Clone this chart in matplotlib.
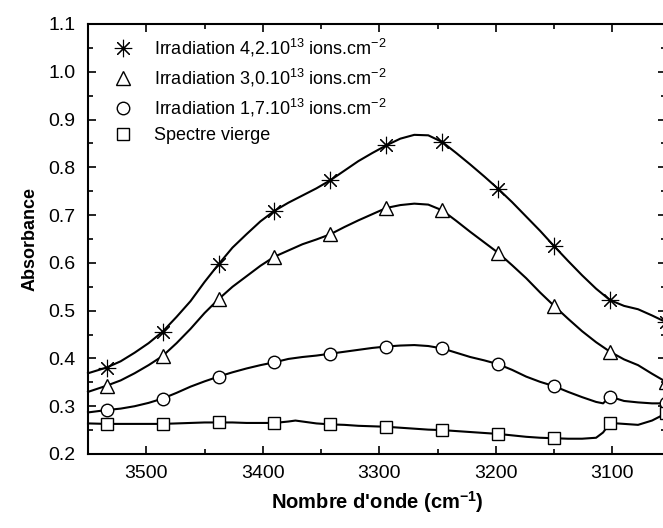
import matplotlib
matplotlib.use("Agg")
import matplotlib.pyplot as plt
from matplotlib.ticker import MultipleLocator

plt.rcParams['font.family'] = ['Liberation Sans', 'DejaVu Sans']
plt.rcParams['mathtext.fontset'] = 'custom'
plt.rcParams['mathtext.rm'] = 'Liberation Sans'
plt.rcParams['mathtext.it'] = 'Liberation Sans:italic'
plt.rcParams['mathtext.bf'] = 'Liberation Sans:bold'

# marker positions (wavenumber, cm-1)
marker_x = [3534, 3486, 3438, 3390, 3342, 3294, 3246, 3198, 3150, 3102, 3054]
star_m = [0.381, 0.456, 0.597, 0.709, 0.773, 0.846, 0.853, 0.755, 0.635, 0.522, 0.476]
tri_m = [0.343, 0.405, 0.524, 0.613, 0.660, 0.715, 0.710, 0.621, 0.510, 0.414, 0.351]
circ_m = [0.292, 0.316, 0.362, 0.392, 0.410, 0.425, 0.421, 0.388, 0.342, 0.320, 0.306]
sq_m = [0.263, 0.263, 0.266, 0.265, 0.262, 0.257, 0.250, 0.242, 0.233, 0.265, 0.285]

# continuous spectra
line_x = [3550, 3534, 3522, 3510, 3498, 3486, 3474, 3462, 3450, 3438, 3426, 3414, 3402,
          3390, 3378, 3366, 3354, 3342, 3330, 3318, 3306, 3294, 3282, 3270, 3258, 3246,
          3234, 3222, 3210, 3198, 3186, 3174, 3162, 3150, 3138, 3126, 3114, 3102, 3090,
          3078, 3066, 3054]
star_y = [0.369, 0.381, 0.394, 0.412, 0.432, 0.456, 0.487, 0.520, 0.560, 0.597, 0.632,
          0.660, 0.687, 0.709, 0.726, 0.741, 0.756, 0.773, 0.793, 0.813, 0.830, 0.846,
          0.860, 0.868, 0.867, 0.853, 0.830, 0.806, 0.781, 0.755, 0.727, 0.697, 0.667,
          0.635, 0.604, 0.574, 0.546, 0.522, 0.510, 0.503, 0.490, 0.476]
tri_y = [0.330, 0.343, 0.354, 0.369, 0.386, 0.405, 0.432, 0.462, 0.495, 0.524, 0.550,
         0.572, 0.594, 0.613, 0.626, 0.639, 0.649, 0.660, 0.675, 0.689, 0.702, 0.715,
         0.721, 0.724, 0.722, 0.710, 0.688, 0.665, 0.643, 0.621, 0.595, 0.568, 0.538,
         0.510, 0.483, 0.457, 0.434, 0.414, 0.398, 0.386, 0.368, 0.351]

circ_x = [3550, 3534, 3522, 3510, 3498, 3486, 3474, 3462, 3450, 3438, 3426, 3414, 3402,
          3390, 3378, 3366, 3354, 3342, 3330, 3318, 3306, 3294, 3282, 3270, 3258, 3246,
          3234, 3222, 3210, 3198, 3186, 3174, 3162, 3150, 3138, 3126, 3114, 3108, 3102,
          3090, 3078, 3066, 3054]
circ_y = [0.287, 0.292, 0.295, 0.300, 0.307, 0.316, 0.328, 0.341, 0.352, 0.362, 0.371,
          0.379, 0.386, 0.392, 0.399, 0.403, 0.406, 0.410, 0.414, 0.418, 0.422, 0.425,
          0.427, 0.428, 0.426, 0.421, 0.412, 0.403, 0.396, 0.388, 0.376, 0.362, 0.351,
          0.342, 0.330, 0.319, 0.309, 0.306, 0.320, 0.311, 0.308, 0.306, 0.306]

sq_x = [3550, 3534, 3522, 3510, 3498, 3486, 3474, 3462, 3450, 3438, 3426, 3414, 3402,
        3390, 3378, 3372, 3366, 3354, 3342, 3330, 3318, 3306, 3294, 3282, 3270, 3258,
        3246, 3234, 3222, 3210, 3198, 3186, 3174, 3162, 3150, 3138, 3126, 3114, 3108,
        3102, 3090, 3078, 3066, 3054]
sq_y = [0.264, 0.263, 0.263, 0.263, 0.263, 0.263, 0.264, 0.265, 0.266, 0.266, 0.266,
        0.265, 0.265, 0.265, 0.268, 0.270, 0.268, 0.264, 0.262, 0.261, 0.259, 0.258,
        0.257, 0.255, 0.253, 0.251, 0.250, 0.248, 0.246, 0.244, 0.242, 0.239, 0.236,
        0.234, 0.233, 0.232, 0.232, 0.234, 0.245, 0.265, 0.263, 0.261, 0.270, 0.285]

labels = [r'Irradiation 4,2.10$^{13}$ ions.cm$^{-2}$',
          r'Irradiation 3,0.10$^{13}$ ions.cm$^{-2}$',
          r'Irradiation 1,7.10$^{13}$ ions.cm$^{-2}$',
          'Spectre vierge']
xlabel_text = "Nombre d'onde (cm$^{\\mathbf{-1}}$)"
ylabel_text = "Absorbance"

fig = plt.figure(figsize=(6.63, 5.28), dpi=100)
ax = fig.add_axes([88/663, 1 - 454/528, 578/663, 430/528])

lw = 1.5
series = [
    (line_x, star_y, star_m, (8, 2, 0), 12.5, 0.8),
    (line_x, tri_y, tri_m, '^', 10, 1.0),
    (circ_x, circ_y, circ_m, 'o', 9, 1.0),
    (sq_x, sq_y, sq_m, 's', 8.5, 1.0),
]
handles = []
for (lx, ly, my, mk, ms, mw), lab in zip(series, labels):
    ax.plot(lx, ly, color='black', lw=lw, zorder=2, clip_on=False)
    h, = ax.plot(marker_x, my, linestyle='none', marker=mk, ms=ms,
                 mfc='white', mec='black', mew=mw, zorder=3, clip_on=False)
    handles.append(h)

ax.set_xlim(3550, 3054)
ax.set_ylim(0.2, 1.1)
ax.xaxis.set_major_locator(MultipleLocator(100))
ax.xaxis.set_minor_locator(MultipleLocator(50))
ax.yaxis.set_major_locator(MultipleLocator(0.1))
ax.yaxis.set_minor_locator(MultipleLocator(0.05))
ax.yaxis.set_major_formatter(plt.FuncFormatter(lambda v, p: f'{v:.1f}'))
ax.tick_params(which='both', direction='in', top=True, right=True, labelsize=14, width=1.2)
ax.tick_params(which='major', length=6)
ax.tick_params(which='minor', length=3.5)
ax.tick_params(axis='x', which='both', pad=8)
ax.tick_params(axis='y', which='both', pad=9)
for s in ax.spines.values():
    s.set_linewidth(1.5)

ax.set_ylabel(ylabel_text, fontsize=13, fontweight='bold', labelpad=7)
ax.set_xlabel(xlabel_text, fontsize=14.5, fontweight='bold', labelpad=5)

ax.legend(handles, labels, loc='upper left', bbox_to_anchor=(0.02, 1.0), frameon=False,
          fontsize=13, handlelength=1.2, handletextpad=1.1, labelspacing=0.45,
          borderaxespad=0.3)

fig.savefig('out.png', dpi=100)
